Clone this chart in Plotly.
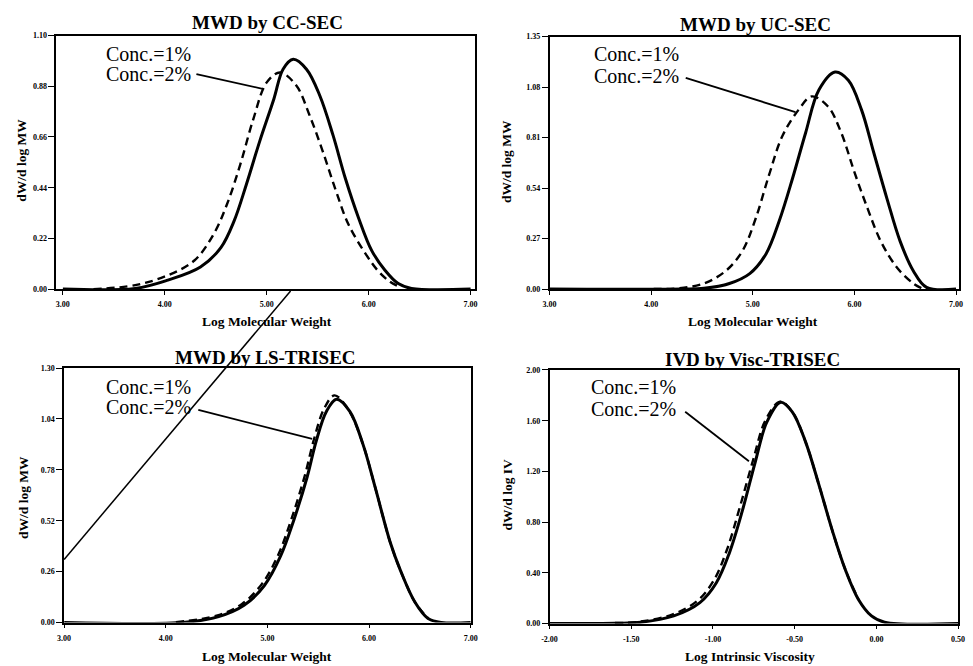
import plotly.graph_objects as go

# ---- Panel 1: MWD by CC-SEC ----
cc_x1 = [3.0, 3.71, 4.03, 4.35, 4.55, 4.68, 4.80, 4.93, 5.07, 5.16, 5.26, 5.39, 5.52, 5.65, 5.77, 5.90, 6.03, 6.16, 6.29, 6.42, 7.0]
cc_y1 = [0, 0.003, 0.039, 0.096, 0.18, 0.296, 0.454, 0.64, 0.825, 0.954, 0.997, 0.954, 0.84, 0.668, 0.482, 0.31, 0.167, 0.082, 0.024, 0.003, 0]
cc_x2 = [3.3, 3.71, 4.03, 4.29, 4.48, 4.61, 4.74, 4.87, 5.0, 5.13, 5.29, 5.42, 5.55, 5.68, 5.80, 5.97, 6.09, 6.2, 6.3]
cc_y2 = [0, 0.017, 0.06, 0.124, 0.239, 0.368, 0.54, 0.74, 0.897, 0.94, 0.883, 0.754, 0.597, 0.425, 0.282, 0.153, 0.08, 0.035, 0.01]

# ---- Panel 2: MWD by UC-SEC ----
uc_x1 = [3.0, 4.3, 4.52, 4.77, 4.97, 5.13, 5.26, 5.39, 5.52, 5.65, 5.81, 5.94, 6.07, 6.19, 6.32, 6.45, 6.58, 6.71, 7.0]
uc_y1 = [0, 0, 0.004, 0.03, 0.083, 0.188, 0.364, 0.59, 0.836, 1.064, 1.16, 1.116, 0.958, 0.73, 0.484, 0.255, 0.097, 0.009, 0]
uc_x2 = [3.0, 4.0, 4.26, 4.52, 4.74, 4.90, 5.03, 5.16, 5.29, 5.45, 5.58, 5.74, 5.87, 6.0, 6.13, 6.26, 6.42, 6.58, 6.68]
uc_y2 = [0, 0, 0.004, 0.03, 0.1, 0.206, 0.38, 0.61, 0.817, 0.958, 1.03, 0.976, 0.836, 0.625, 0.43, 0.255, 0.114, 0.03, 0]

# ---- Panel 3: MWD by LS-TRISEC ----
ls_x1 = [3.0, 4.19, 4.52, 4.77, 4.97, 5.13, 5.26, 5.39, 5.48, 5.58, 5.68, 5.81, 5.94, 6.06, 6.21, 6.31, 6.45, 6.58, 6.71, 7.0]
ls_y1 = [0, 0.001, 0.03, 0.088, 0.189, 0.34, 0.524, 0.742, 0.927, 1.078, 1.14, 1.078, 0.91, 0.69, 0.406, 0.264, 0.105, 0.021, 0, 0]
ls_x2 = [4.1, 4.5, 4.75, 4.95, 5.11, 5.24, 5.37, 5.46, 5.56, 5.66, 5.80, 5.94, 6.06, 6.21, 6.31, 6.45, 6.58]
ls_y2 = [0.002, 0.035, 0.095, 0.2, 0.35, 0.535, 0.755, 0.94, 1.095, 1.16, 1.085, 0.91, 0.69, 0.406, 0.264, 0.105, 0.021]

# ---- Panel 4: IVD by Visc-TRISEC ----
iv_x1 = [-2.0, -1.6, -1.44, -1.24, -1.08, -0.98, -0.90, -0.82, -0.74, -0.67, -0.585, -0.515, -0.434, -0.353, -0.27, -0.19, -0.11, -0.03, 0.05, 0.5]
iv_y1 = [0, 0.002, 0.01, 0.06, 0.165, 0.32, 0.555, 0.89, 1.28, 1.59, 1.745, 1.67, 1.435, 1.10, 0.735, 0.424, 0.19, 0.06, 0.01, 0]
iv_x2 = [-1.6, -1.45, -1.25, -1.095, -0.995, -0.915, -0.835, -0.752, -0.68, -0.59, -0.515, -0.434, -0.353, -0.27, -0.19, -0.11]
iv_y2 = [0.004, 0.014, 0.07, 0.18, 0.34, 0.58, 0.92, 1.30, 1.60, 1.75, 1.67, 1.435, 1.10, 0.735, 0.424, 0.19]

# ---- tick labels ----
mw_ticks = [3.0, 4.0, 5.0, 6.0, 7.0]
iv_ticks = [-2.0, -1.5, -1.0, -0.5, 0.0, 0.5]
cc_yticks = [0.00, 0.22, 0.44, 0.66, 0.88, 1.10]
uc_yticks = [0.00, 0.27, 0.54, 0.81, 1.08, 1.35]
ls_yticks = [0.00, 0.26, 0.52, 0.78, 1.04, 1.30]
iv_yticks = [0.00, 0.40, 0.80, 1.20, 1.60, 2.00]

titles = ["MWD by CC-SEC", "MWD by UC-SEC", "MWD by LS-TRISEC", "IVD by Visc-TRISEC"]
x_titles = ["Log Molecular Weight", "Log Molecular Weight", "Log Molecular Weight", "Log Intrinsic Viscosity"]
y_titles = ["dW/d log MW", "dW/d log MW", "dW/d log MW", "dW/d log IV"]
label_1 = "Conc.=1%"
label_2 = "Conc.=2%"

W, H = 973, 666


def px(x):
    return x / W


def py(y):
    return 1 - y / H


panels = [
    dict(xd=(49, 474), yd=(32, 289), xr=(2.935, 7.04), yr=(0, 1.10), xt=mw_ticks, yt=cc_yticks,
         s1=(cc_x1, cc_y1), s2=(cc_x2, cc_y2),
         lab=(3.40, 1.018, 0.932), lead=((4.31, 0.933), (4.97, 0.868)),
         tpos=(264, 19), xtpos=(263, 322), ytpos=(14, 158)),
    dict(xd=(550, 966), yd=(33, 289), xr=(3, 7.03), yr=(0, 1.35), xt=mw_ticks, yt=uc_yticks,
         s1=(uc_x1, uc_y1), s2=(uc_x2, uc_y2),
         lab=(3.42, 1.255, 1.14), lead=((4.34, 1.129), (5.42, 0.946)),
         tpos=(759, 21), xtpos=(757, 322), ytpos=(507, 160)),
    dict(xd=(57, 470), yd=(369, 627), xr=(3, 7), yr=(0, 1.30), xt=mw_ticks, yt=ls_yticks,
         s1=(ls_x1, ls_y1), s2=(ls_x2, ls_y2),
         lab=(3.39, 1.203, 1.10), lead=((4.32, 1.086), (5.44, 0.938)),
         tpos=(262, 358), xtpos=(263, 661), ytpos=(15, 500)),
    dict(xd=(550, 965), yd=(371, 628), xr=(-2, 0.5), yr=(0, 2.00), xt=iv_ticks, yt=iv_yticks,
         s1=(iv_x1, iv_y1), s2=(iv_x2, iv_y2),
         lab=(-1.756, 1.862, 1.69), lead=((-1.17, 1.67), (-0.78, 1.28)),
         tpos=(756, 360), xtpos=(754, 661), ytpos=(507, 497)),
]

SERIF = "Liberation Serif, Times New Roman, serif"
fig = go.Figure()
layout = dict(
    width=W, height=H, margin=dict(l=0, r=0, t=0, b=0),
    paper_bgcolor="white", plot_bgcolor="white", showlegend=False,
    font=dict(family=SERIF, color="black"),
)
annotations = []
shapes = []
tick_font = dict(size=8, family=SERIF, weight="bold", color="black")

for i, p in enumerate(panels, start=1):
    xa = "x" if i == 1 else f"x{i}"
    ya = "y" if i == 1 else f"y{i}"
    fig.add_trace(go.Scatter(x=p["s1"][0], y=p["s1"][1], mode="lines", line_shape="spline",
                             line=dict(color="black", width=3), xaxis=xa, yaxis=ya,
                             name=label_1))
    fig.add_trace(go.Scatter(x=p["s2"][0], y=p["s2"][1], mode="lines", line_shape="spline",
                             line=dict(color="black", width=2.4, dash="8px,5px"), xaxis=xa, yaxis=ya,
                             name=label_2))
    layout["xaxis" if i == 1 else f"xaxis{i}"] = dict(
        domain=[px(p["xd"][0]), px(p["xd"][1])], range=list(p["xr"]), anchor=ya,
        tickvals=p["xt"], ticktext=[f"{v:.2f}" for v in p["xt"]], tickfont=tick_font,
        showline=True, mirror=True, linecolor="black", linewidth=1.5,
        ticks="outside", ticklen=4, tickcolor="black", ticklabelstandoff=3,
        showgrid=False, zeroline=False, fixedrange=True,
    )
    layout["yaxis" if i == 1 else f"yaxis{i}"] = dict(
        domain=[py(p["yd"][1]), py(p["yd"][0])], range=list(p["yr"]), anchor=xa,
        tickvals=p["yt"], ticktext=[f"{v:.2f}" for v in p["yt"]], tickfont=tick_font,
        showline=True, mirror=True, linecolor="black", linewidth=1.5,
        ticks="outside", ticklen=6, tickcolor="black", showgrid=False, zeroline=False,
        fixedrange=True,
    )
    # panel title and axis titles
    annotations.append(dict(text=titles[i - 1], x=px(p["tpos"][0]), y=py(p["tpos"][1]),
                            xref="paper", yref="paper", xanchor="center", yanchor="middle",
                            showarrow=False, font=dict(size=19, family=SERIF, weight="bold")))
    annotations.append(dict(text=x_titles[i - 1], x=px(p["xtpos"][0]), y=py(p["xtpos"][1]),
                            xref="paper", yref="paper", xanchor="center", yanchor="middle",
                            showarrow=False, font=dict(size=13.5, family=SERIF, weight="bold")))
    annotations.append(dict(text=y_titles[i - 1], x=px(p["ytpos"][0]), y=py(p["ytpos"][1]),
                            xref="paper", yref="paper", xanchor="center", yanchor="middle",
                            showarrow=False, textangle=-90,
                            font=dict(size=13.5, family=SERIF, weight="bold")))
    # concentration labels with a leader line to the 2% curve
    lx, ly1, ly2 = p["lab"]
    for txt, yy in ((label_1, ly1), (label_2, ly2)):
        annotations.append(dict(text=txt, x=lx, y=yy, xref=xa, yref=ya, xanchor="left",
                                yanchor="middle", showarrow=False,
                                font=dict(size=20, family=SERIF)))
    (ax0, ay0), (ax1, ay1) = p["lead"]
    shapes.append(dict(type="line", xref=xa, yref=ya, x0=ax0, y0=ay0, x1=ax1, y1=ay1,
                       line=dict(color="black", width=1.8)))

# long connector stroke running from the upper-left panel down into the lower-left panel
shapes.append(dict(type="line", xref="paper", yref="paper",
                   x0=px(287), y0=py(291), x1=px(57), y1=py(563),
                   line=dict(color="black", width=1.5)))

layout["annotations"] = annotations
layout["shapes"] = shapes
fig.update_layout(**layout)
fig.write_html("out.html")
